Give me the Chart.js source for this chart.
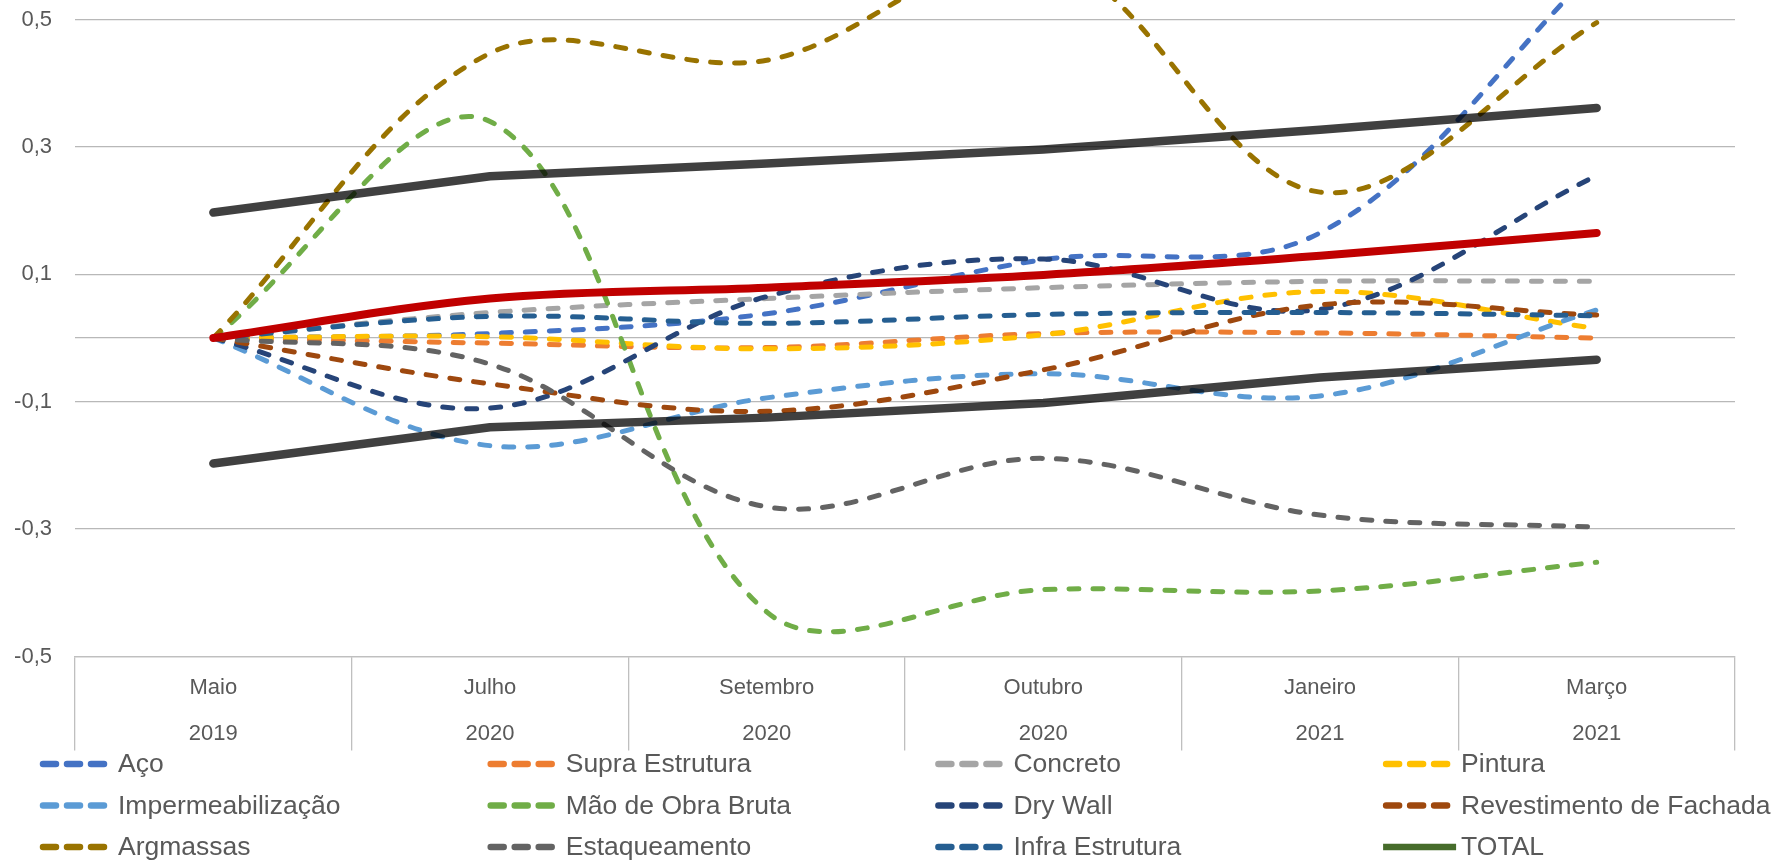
<!DOCTYPE html>
<html>
<head>
<meta charset="utf-8">
<script src="https://cdn.jsdelivr.net/npm/chart.js@4"></script>
<style>
  html, body { margin: 0; padding: 0; background: #fff; }
  #wrap { width: 1787px; height: 863px; position: relative; }
</style>
</head>
<body>
<div id="wrap"><canvas id="grafico"></canvas></div>
<script>
// --- dados ---
const meses = ["Maio", "Julho", "Setembro", "Outubro", "Janeiro", "Março"];
const anos = ["2019", "2020", "2020", "2020", "2021", "2021"];
const yTicks = [-0.5, -0.3, -0.1, 0, 0.1, 0.3, 0.5];

const aco = [0, 0.007, 0.038, 0.123, 0.165, 0.58];
const supraEstrutura = [0, -0.008, -0.015, 0.007, 0.008, 0.0];
const concreto = [0, 0.040, 0.062, 0.079, 0.089, 0.089];
const pintura = [0, 0.002, -0.017, 0.005, 0.073, 0.015];
const impermeabilizacao = [0, -0.169, -0.094, -0.056, -0.091, 0.044];
const maoDeObraBruta = [0, 0.34, -0.43, -0.395, -0.397, -0.352];
const dryWall = [0, -0.11, 0.065, 0.124, 0.045, 0.255];
const revestimentoFachada = [0, -0.072, -0.115, -0.05, 0.052, 0.036];
const argmassas = [0, 0.447, 0.436, 0.6, 0.229, 0.495];
const estaqueamento = [0, -0.041, -0.265, -0.189, -0.278, -0.297];
const infraEstrutura = [0, 0.034, 0.023, 0.037, 0.040, 0.035];
const total = [0, 0.062, 0.079, 0.099, 0.129, 0.165];
const limiteSuperior = [0.197, 0.254, 0.274, 0.296, 0.327, 0.361];
const limiteInferior = [-0.197, -0.14, -0.125, -0.102, -0.062, -0.034];

const FONTE = '"Liberation Sans", Arial, sans-serif';
const CINZA_TEXTO = '#595959';

// séries tracejadas (na ordem da legenda)
const tracejadas = [
    ["Aço", aco, "#4472c4"],
    ["Supra Estrutura", supraEstrutura, "#ed7d31"],
    ["Concreto", concreto, "#a5a5a5"],
    ["Pintura", pintura, "#ffc000"],
    ["Impermeabilização", impermeabilizacao, "#5b9bd5"],
    ["Mão de Obra Bruta", maoDeObraBruta, "#70ad47"],
    ["Dry Wall", dryWall, "#264478"],
    ["Revestimento de Fachada", revestimentoFachada, "#9e480e"],
    ["Argmassas", argmassas, "#997300"],
    ["Estaqueamento", estaqueamento, "#636363"],
    ["Infra Estrutura", infraEstrutura, "#255e91"]
];

const datasets = tracejadas.map(([nome, valores, cor], i) => ({
    label: nome,
    data: valores,
    borderColor: cor,
    backgroundColor: cor,
    borderWidth: 5,
    borderDash: [10, 14],
    borderCapStyle: 'round',
    tension: 0.35,
    order: 30 - i,
    naLegenda: true
}));

datasets.push({
    label: "TOTAL",
    data: total,
    borderColor: "#466c2b",
    borderWidth: 6,
    tension: 0.33,
    order: 5,
    naLegenda: true
});

// linhas grossas (fora da legenda)
datasets.push({
    label: "total_destaque",
    data: total,
    borderColor: "#c00000",
    borderWidth: 8,
    borderCapStyle: 'round',
    tension: 0.33,
    order: 2
});
datasets.push({
    label: "limite_sup",
    data: limiteSuperior,
    borderColor: "rgba(0,0,0,0.75)",
    borderWidth: 8.5,
    borderCapStyle: 'round',
    borderJoinStyle: 'round',
    tension: 0,
    order: 1
});
datasets.push({
    label: "limite_inf",
    data: limiteInferior,
    borderColor: "rgba(0,0,0,0.75)",
    borderWidth: 8.5,
    borderCapStyle: 'round',
    borderJoinStyle: 'round',
    tension: 0,
    order: 1
});

// --- legenda em grade (4 colunas) ---
const legendaGrade = {
    id: 'legendaGrade',
    afterDraw(chart) {
        const ctx = chart.ctx;
        const itens = chart.data.datasets.filter(d => d.naLegenda);
        ctx.save();
        ctx.font = '26.5px ' + FONTE;
        ctx.textBaseline = 'middle';
        ctx.textAlign = 'left';
        itens.forEach((d, i) => {
            const x = 40 + (i % 4) * 447.7;
            const y = 764 + Math.floor(i / 4) * 41.5;
            ctx.strokeStyle = d.borderColor;
            ctx.lineWidth = 6.5;
            ctx.lineCap = 'round';
            ctx.beginPath();
            if (d.borderDash) {
                ctx.setLineDash([13, 11]);
                ctx.moveTo(x + 3, y);
                ctx.lineTo(x + 64, y);
            } else {
                ctx.setLineDash([]);
                ctx.lineCap = 'butt';
                ctx.moveTo(x, y);
                ctx.lineTo(x + 73, y);
            }
            ctx.stroke();
            ctx.fillStyle = CINZA_TEXTO;
            ctx.fillText(d.label, x + 78, y + 1);
        });
        ctx.restore();
    }
};

const ctx = document.getElementById('grafico').getContext('2d');
new Chart(ctx, {
    type: 'line',
    data: {
        labels: meses.map((m, i) => [m, anos[i]]),
        datasets: datasets
    },
    options: {
        responsive: true,
        maintainAspectRatio: false,
        animation: false,
        layout: { padding: { left: 0, right: 52, top: 19.5, bottom: 104.5 } },
        elements: {
            point: { radius: 0, hoverRadius: 0 },
            line: { capBezierPoints: false }
        },
        datasets: { line: { clip: false } },
        plugins: {
            legend: { display: false },
            tooltip: { enabled: false }
        },
        scales: {
            x: {
                offset: true,
                grid: {
                    offset: true,
                    drawOnChartArea: false,
                    drawTicks: true,
                    tickLength: 94,
                    color: '#bfbfbf',
                    lineWidth: 1.3
                },
                border: { display: true, color: '#bfbfbf', width: 1.3 },
                ticks: {
                    padding: -85.5,
                    maxRotation: 0,
                    autoSkip: false,
                    color: CINZA_TEXTO,
                    font: { family: FONTE, size: 22, lineHeight: 46 / 22 }
                },
                afterFit(scale) { scale.height = 102; }
            },
            y: {
                min: -0.5,
                max: 0.5,
                afterBuildTicks(scale) {
                    scale.ticks = yTicks.map(v => ({ value: v }));
                },
                afterFit(scale) {
                    scale.width = 75;
                    scale.paddingTop = 0;
                    scale.paddingBottom = 0;
                },
                grid: {
                    drawTicks: false,
                    color: '#b8b8b8',
                    lineWidth: 1.3
                },
                border: { display: false },
                ticks: {
                    padding: 23,
                    color: CINZA_TEXTO,
                    font: { family: FONTE, size: 22 },
                    callback: v => v === 0 ? '' : v.toFixed(1).replace('.', ',')
                }
            }
        }
    },
    plugins: [legendaGrade]
});
</script>
</body>
</html>
